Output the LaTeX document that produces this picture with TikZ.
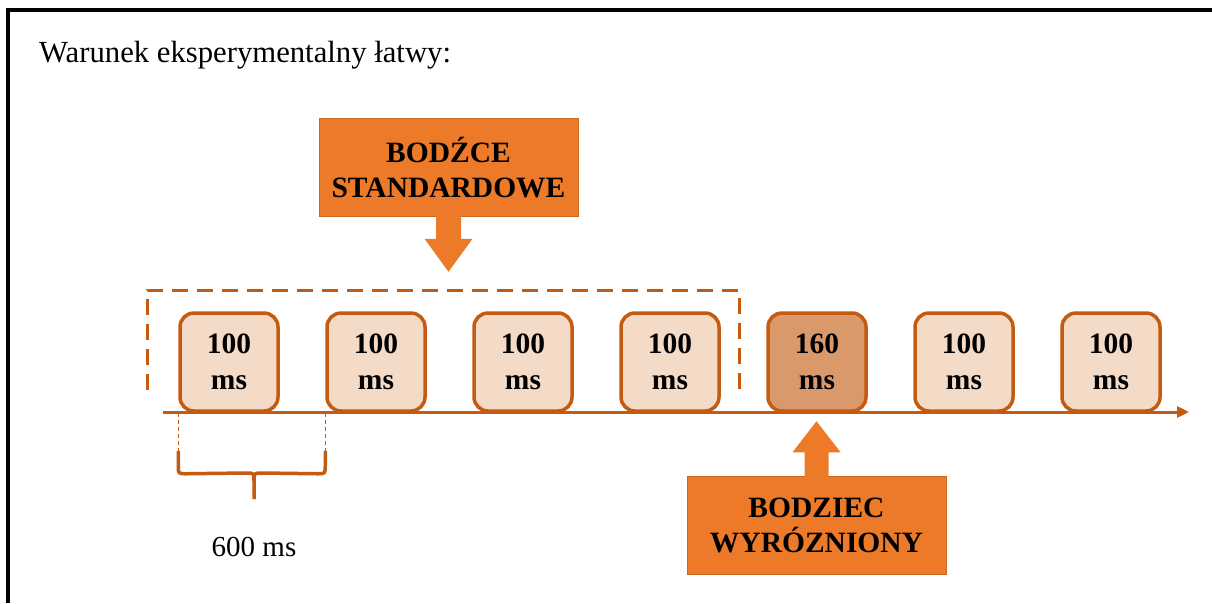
\documentclass[tikz,border=0pt]{standalone}
\usepackage{fontspec}
\setmainfont{Liberation Serif}
\usetikzlibrary{arrows.meta,calc}
\definecolor{edgeor}{HTML}{C55A11}
\definecolor{lightfill}{HTML}{F4DBC8}
\definecolor{darkfill}{HTML}{D9996B}
\definecolor{boxor}{HTML}{EC7A28}
\tikzset{
  stim/.style={draw=edgeor, line width=3.5pt, rounded corners=14pt, fill=lightfill,
    minimum width=98pt, minimum height=98pt, inner sep=0pt, align=center,
    font=\fontsize{29.5}{36}\selectfont\bfseries},
  odd/.style={stim, fill=darkfill},
  label box/.style={fill=boxor, draw=boxor!85!black, line width=0.5pt, minimum width=259pt, minimum height=98pt,
    inner sep=0pt, align=center, font=\fontsize{29.5}{35}\selectfont\bfseries},
  blockarrow/.style={fill=boxor},
  plain/.style={font=\fontsize{29}{35}\selectfont, inner sep=0pt},
  axis/.style={draw=edgeor, line width=3pt, -{Triangle[length=12pt,width=11pt]}},
  group/.style={draw=edgeor, line width=3pt, dash pattern=on 16pt off 9pt},
  guide/.style={draw=edgeor, line width=1.2pt, dash pattern=on 4pt off 3pt},
  brace/.style={draw=edgeor, line width=3.5pt, line join=round}
}
\begin{document}
\begin{tikzpicture}[x=1pt,y=-1pt]
\useasboundingbox (0,0) rectangle (1212,603);
\fill[white] (0,0) rectangle (1212,603);
% frame
\draw[line width=4pt] (8,603) -- (8,10) -- (1212,10);
% title
\node[plain, font=\fontsize{30.7}{36}\selectfont, anchor=base west] (title) at (39,62) {Warunek eksperymentalny łatwy:};
% timeline
\coordinate (t0) at (163,412);
\coordinate (t1) at (1189,412);
\draw[axis] (t0) -- (t1);
% stimuli
\node[stim] (b1) at (229,362) {100\\ms};
\node[stim] (b2) at (376,362) {100\\ms};
\node[stim] (b3) at (523,362) {100\\ms};
\node[stim] (b4) at (670,362) {100\\ms};
\node[odd]  (b5) at (817,362) {160\\ms};
\node[stim] (b6) at (964,362) {100\\ms};
\node[stim] (b7) at (1111,362) {100\\ms};
% dashed group
\draw[group] (147,390) -- (147,290) -- (739,290) -- (739,390);
% top label and arrow
\node[label box] (std) at (448.5,167.5) {BODŹCE\\STANDARDOWE};
\fill[blockarrow] (std.south) ++(-12.5,-1) -- ++(0,23) -- ++(-11.5,0) -- ++(24,33) -- ++(24,-33) -- ++(-11.5,0) -- ++(0,-23) -- cycle;
% bottom label and arrow
\node[label box] (dev) at (816.5,525.5) {BODZIEC\\WYRÓZNIONY};
\fill[blockarrow] (dev.north) ++(-12,1) -- ++(0,-25) -- ++(-12,0) -- ++(24,-31) -- ++(24,31) -- ++(-12,0) -- ++(0,25) -- cycle;
% interval guides and brace
\coordinate (gl) at ($(b1.south west)+(0,38)$);
\coordinate (gr) at ($(b2.south west)+(0,38)$);
\draw[guide] (b1.south west) -- (gl);
\draw[guide] (b2.south west) -- (gr);
\draw[brace] (gl) -- ++(0,15) .. controls ++(0,8) .. ++(8,8) -- (246,473) .. controls (254,473) .. (254,481) -- (254,499);
\draw[brace] (gr) -- ++(0,15) .. controls ++(0,8) .. ++(-8,8) -- (262,473) .. controls (254,473) .. (254,481);
\node[plain] (dur) at (254,547) {600 ms};
\end{tikzpicture}
\end{document}
